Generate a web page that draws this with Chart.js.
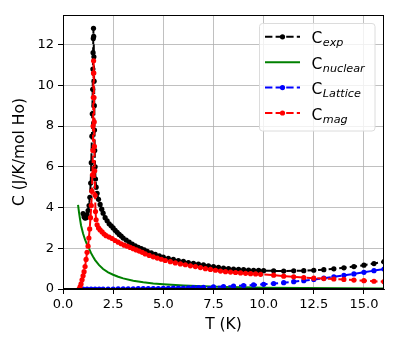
<!DOCTYPE html>
<html>
<head>
<meta charset="utf-8">
<script src="https://cdn.jsdelivr.net/npm/chart.js@4/dist/chart.umd.min.js"></script>
<style>
html,body{margin:0;padding:0;background:#fff;}
#c{display:block;}
</style>
</head>
<body>
<canvas id="c" width="399" height="349"></canvas>
<script>
// ---- Data ----
const expT = [1.00,1.05,1.10,1.15,1.20,1.25,1.30,1.34,1.38,1.41,1.44,1.46,1.48,1.49,1.50,1.51,1.52,1.53,1.54,1.55,1.56,1.57,1.58,1.60,1.62,1.65,1.70,1.77,1.85,1.93,2.00,2.10,2.20,2.30,2.40,2.50,2.60,2.70,2.80,2.90,3.00,3.15,3.30,3.45,3.60,3.75,3.90,4.05,4.20,4.40,4.60,4.80,5.00,5.25,5.50,5.75,6.00,6.25,6.50,6.75,7.00,7.25,7.50,7.75,8.00,8.25,8.50,8.75,9.00,9.25,9.50,9.75,10.0,10.5,11.0,11.5,12.0,12.5,13.0,13.5,14.0,14.5,15.0,15.5,16.0];
const expC = [3.70,3.55,3.48,3.50,3.65,3.85,4.10,4.50,5.20,6.20,7.50,8.60,9.80,10.8,11.6,12.3,12.8,12.4,11.4,10.2,9.0,7.8,6.8,6.0,5.4,5.0,4.70,4.40,4.15,3.92,3.72,3.50,3.35,3.20,3.10,3.00,2.88,2.78,2.68,2.60,2.50,2.40,2.30,2.20,2.12,2.04,1.98,1.92,1.85,1.78,1.70,1.63,1.56,1.50,1.45,1.40,1.36,1.30,1.26,1.22,1.18,1.14,1.10,1.06,1.03,1.00,0.98,0.97,0.95,0.93,0.92,0.91,0.90,0.89,0.88,0.89,0.90,0.92,0.95,0.99,1.04,1.10,1.17,1.25,1.34];

const nucT = [0.75,0.80,0.85,0.90,1.00,1.10,1.20,1.30,1.40,1.50,1.60,1.80,2.00,2.25,2.50,2.75,3.00,3.50,4.00,4.50,5.00,6.00,7.00,8.00,9.00,10.0,12.0,14.0,16.0];
const nucC = [4.13,3.75,3.42,3.12,2.72,2.42,2.18,1.98,1.76,1.58,1.42,1.17,0.98,0.82,0.70,0.60,0.52,0.41,0.33,0.27,0.23,0.17,0.13,0.10,0.08,0.065,0.05,0.04,0.03];

const latT = [0.85,1.0,1.2,1.4,1.6,1.8,2.0,2.25,2.5,2.75,3.0,3.25,3.5,3.75,4.0,4.25,4.5,4.75,5.0,5.25,5.5,5.75,6.0,6.25,6.5,6.75,7.0,7.5,8.0,8.5,9.0,9.5,10.0,10.5,11.0,11.5,12.0,12.5,13.0,13.5,14.0,14.5,15.0,15.5,16.0];
const latC = [0.0,0.0,0.0,0.0,0.0,0.0,0.0,0.0,0.0,0.01,0.01,0.01,0.01,0.015,0.015,0.02,0.02,0.025,0.03,0.035,0.04,0.045,0.05,0.055,0.065,0.07,0.08,0.10,0.12,0.14,0.17,0.20,0.23,0.27,0.31,0.36,0.41,0.47,0.53,0.60,0.67,0.74,0.82,0.90,0.98];

const magT = [0.80,0.85,0.90,0.95,1.00,1.05,1.10,1.15,1.20,1.25,1.29,1.33,1.37,1.41,1.44,1.47,1.49,1.50,1.51,1.52,1.525,1.535,1.545,1.555,1.565,1.58,1.60,1.62,1.65,1.70,1.77,1.85,1.95,2.05,2.15,2.30,2.45,2.60,2.75,2.90,3.05,3.20,3.35,3.50,3.65,3.80,3.95,4.10,4.30,4.50,4.70,4.90,5.10,5.35,5.60,5.85,6.10,6.35,6.60,6.85,7.10,7.35,7.60,7.85,8.10,8.35,8.60,8.85,9.10,9.35,9.60,9.85,10.5,11.0,11.5,12.0,12.5,13.0,13.5,14.0,14.5,15.0,15.5,16.0];
const magC = [0.0,0.10,0.25,0.45,0.65,0.85,1.10,1.45,1.80,2.10,2.50,2.95,3.50,4.10,4.80,5.60,6.80,8.00,9.40,10.6,11.2,10.6,9.4,8.2,7.0,5.8,4.6,3.8,3.40,3.15,3.00,2.90,2.80,2.70,2.62,2.55,2.48,2.38,2.30,2.22,2.15,2.10,2.04,1.98,1.92,1.86,1.80,1.72,1.65,1.58,1.52,1.46,1.40,1.34,1.28,1.23,1.19,1.14,1.10,1.05,1.00,0.96,0.92,0.88,0.85,0.83,0.81,0.79,0.77,0.75,0.74,0.72,0.68,0.63,0.60,0.56,0.53,0.51,0.49,0.47,0.44,0.41,0.38,0.36];

const xTicks = [0, 2.5, 5, 7.5, 10, 12.5, 15];
const yTicks = [0, 2, 4, 6, 8, 10, 12];

const legendItems = [
  {main:'C', sub:'exp', color:'#000000', dashed:true, marker:true},
  {main:'C', sub:'nuclear', color:'#008000', dashed:false, marker:false},
  {main:'C', sub:'Lattice', color:'#0000ff', dashed:true, marker:true},
  {main:'C', sub:'mag', color:'#ff0000', dashed:true, marker:true}
];

// ---- Build ----
const FONT = "'DejaVu Sans', sans-serif";
const DASH = [7.4, 3.2];
function pts(xs, ys){ return xs.map((x,i)=>({x:x, y:ys[i]})); }

function ds(label, xs, ys, color, dashed, marker, order){
  return {
    label: label,
    data: pts(xs, ys),
    borderColor: color,
    backgroundColor: color,
    borderWidth: 2,
    borderDash: dashed ? DASH : [],
    pointRadius: marker ? 2.6 : 0,
    pointBorderWidth: 0,
    pointHoverRadius: 0,
    tension: 0,
    fill: false,
    order: order
  };
}

const framePlugin = {
  id: 'frame',
  afterDatasetsDraw(chart){
    const a = chart.chartArea, ctx = chart.ctx;
    ctx.save();
    ctx.strokeStyle = '#000';
    ctx.lineWidth = 1;
    ctx.setLineDash([]);
    ctx.strokeRect(Math.round(a.left)+0.5, Math.round(a.top)+0.5, Math.round(a.right-a.left)-1, Math.round(a.bottom-a.top)-1);
    ctx.restore();
  }
};

const legendPlugin = {
  id: 'mplLegend',
  afterDraw(chart){
    const ctx = chart.ctx;
    ctx.save();
    const bx = 259.5, by = 23.5, bw = 115.5, bh = 107.5, r = 3;
    ctx.beginPath();
    ctx.moveTo(bx+r, by);
    ctx.arcTo(bx+bw, by, bx+bw, by+bh, r);
    ctx.arcTo(bx+bw, by+bh, bx, by+bh, r);
    ctx.arcTo(bx, by+bh, bx, by, r);
    ctx.arcTo(bx, by, bx+bw, by, r);
    ctx.closePath();
    ctx.fillStyle = 'rgba(255,255,255,0.8)';
    ctx.fill();
    ctx.strokeStyle = '#dcdcdc';
    ctx.lineWidth = 1;
    ctx.stroke();
    legendItems.forEach((it, i) => {
      const base = 43.4 + i*25.4;
      const ly = base - 6.6;
      ctx.strokeStyle = it.color;
      ctx.fillStyle = it.color;
      ctx.lineWidth = 2;
      ctx.setLineDash(it.dashed ? DASH : []);
      ctx.beginPath();
      ctx.moveTo(265, ly);
      ctx.lineTo(300, ly);
      ctx.stroke();
      ctx.setLineDash([]);
      if (it.marker){
        ctx.beginPath();
        ctx.arc(282.5, ly, 2.6, 0, Math.PI*2);
        ctx.fill();
      }
      ctx.fillStyle = '#000';
      ctx.textBaseline = 'alphabetic';
      ctx.textAlign = 'left';
      ctx.font = '15.5px ' + FONT;
      ctx.fillText(it.main, 311.5, base);
      const w = ctx.measureText(it.main).width;
      ctx.font = 'italic 11.2px ' + FONT;
      ctx.fillText(it.sub, 311.5 + w + 0.5, base + 3);
    });
    ctx.restore();
  }
};

new Chart(document.getElementById('c'), {
  type: 'line',
  data: {
    datasets: [
      ds('C_exp', expT, expC, '#000000', true, true, 4),
      ds('C_nuclear', nucT, nucC, '#008000', false, false, 3),
      ds('C_Lattice', latT, latC, '#0000ff', true, true, 2),
      ds('C_mag', magT, magC, '#ff0000', true, true, 1)
    ]
  },
  options: {
    responsive: false,
    animation: false,
    devicePixelRatio: 1,
    events: [],
    layout: { padding: { left: 0, right: 15, top: 15, bottom: 0 } },
    plugins: { legend: { display: false }, tooltip: { enabled: false } },
    scales: {
      x: {
        type: 'linear',
        min: 0, max: 16,
        afterBuildTicks(s){ s.ticks = xTicks.map(v => ({value: v})); },
        afterFit(s){ s.height = 60; },
        ticks: {
          color: '#000',
          font: { family: FONT, size: 13 },
          padding: 3,
          maxRotation: 0,
          autoSkip: false,
          callback: v => Number(v).toFixed(1)
        },
        grid: { color: '#b0b0b0', lineWidth: 0.8, tickLength: 5, tickColor: '#000', tickWidth: 1 },
        border: { display: true, color: '#000', width: 1 },
        title: { display: true, text: 'T (K)', color: '#000', font: { family: FONT, size: 15.5 }, padding: { top: 0, bottom: 15 } }
      },
      y: {
        type: 'linear',
        min: 0, max: 13.45,
        afterBuildTicks(s){ s.ticks = yTicks.map(v => ({value: v})); },
        afterFit(s){ s.width = 63; },
        ticks: {
          color: '#000',
          font: { family: FONT, size: 13 },
          padding: 4,
          autoSkip: false,
          callback: v => String(v)
        },
        grid: { color: '#b0b0b0', lineWidth: 0.8, tickLength: 5, tickColor: '#000', tickWidth: 1 },
        border: { display: true, color: '#000', width: 1 },
        title: { display: true, text: 'C (J/K/mol Ho)', color: '#000', font: { family: FONT, size: 15.5 }, padding: { top: 11, bottom: 0 } }
      }
    }
  },
  plugins: [framePlugin, legendPlugin]
});
</script>
</body>
</html>
